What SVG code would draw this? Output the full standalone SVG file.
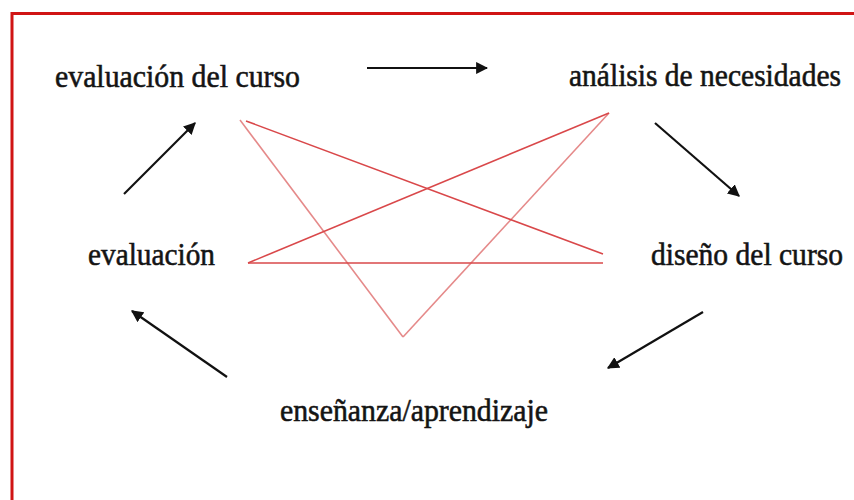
<svg xmlns="http://www.w3.org/2000/svg" width="854" height="500" viewBox="0 0 854 500">
<defs>
<style>
text{font-family:'Liberation Serif','DejaVu Serif',serif;font-size:28px;fill:#141414;stroke:#141414;stroke-width:0.5}
.arr{stroke:#111;stroke-width:2.2;fill:none;marker-end:url(#ah)}
.red{stroke:#d9484a;stroke-width:1.6;fill:none}
.redl{stroke:#e58a8a;stroke-width:1.6;fill:none}
</style>
<marker id="ah" viewBox="0 0 10 10" refX="9" refY="5" markerWidth="5.5" markerHeight="5.5" orient="auto" markerUnits="strokeWidth">
<path d="M0,0 L10,5 L0,10 z" fill="#111"/>
</marker>
</defs>
<rect width="854" height="500" fill="#fff"/>
<path d="M12,500 L12,13.5 L854,13.5" fill="none" stroke="#d01414" stroke-width="3"/>
<g id="n-evaluacion-curso" transform="translate(55,87) scale(1,1.14)"><text x="0" y="0" textLength="245" lengthAdjust="spacingAndGlyphs">evaluación del curso</text></g>
<g id="n-analisis" transform="translate(569,86) scale(1,1.14)"><text x="0" y="0" textLength="272" lengthAdjust="spacingAndGlyphs">análisis de necesidades</text></g>
<g id="n-evaluacion" transform="translate(88,265) scale(1,1.14)"><text x="0" y="0" textLength="127" lengthAdjust="spacingAndGlyphs">evaluación</text></g>
<g id="n-diseno" transform="translate(651,265) scale(1,1.14)"><text x="0" y="0" textLength="192" lengthAdjust="spacingAndGlyphs">diseño del curso</text></g>
<g id="n-ensenanza" transform="translate(280,421) scale(1,1.14)"><text x="0" y="0" textLength="268" lengthAdjust="spacingAndGlyphs">enseñanza/aprendizaje</text></g>
<g id="connectors">
<line class="arr" x1="367" y1="68" x2="487" y2="68"/>
<line class="arr" x1="655" y1="123" x2="739" y2="196"/>
<line class="arr" x1="703" y1="312" x2="608" y2="368"/>
<line class="arr" x1="227" y1="377" x2="132" y2="311"/>
<line class="arr" x1="124" y1="194" x2="195" y2="123"/>
<line class="redl" x1="240" y1="120" x2="403" y2="337"/>
<line class="redl" x1="403" y1="337" x2="609" y2="113"/>
<line class="red" x1="246" y1="121" x2="603" y2="254"/>
<line class="red" x1="248" y1="263" x2="609" y2="113"/>
<line class="red" x1="248" y1="263" x2="603" y2="263"/>
</g>
</svg>
